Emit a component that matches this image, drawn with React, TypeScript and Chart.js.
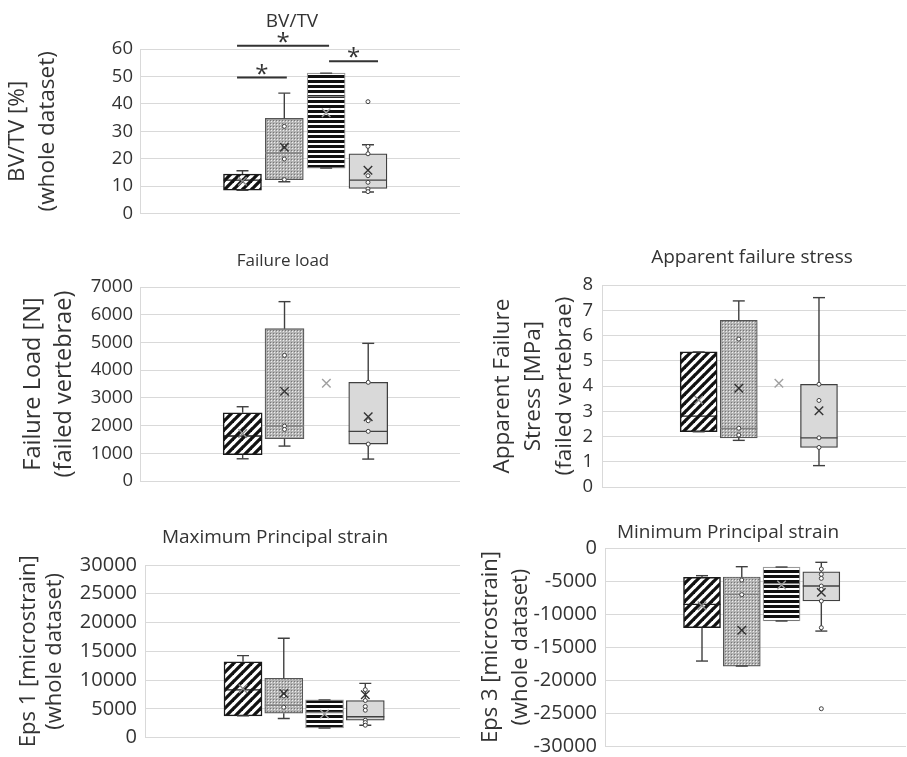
import React, { useEffect, useRef } from 'react';
import { Chart, registerables } from 'chart.js';
Chart.register(...registerables);

// ---------- DATA ----------
const groupPos = [1, 2, 3, 4];

// Panel 1: BV/TV [%]
const bvMin = [8.5, 11.6, 16.6, 7.9];
const bvQ1 = [8.5, 12.4, 16.6, 9.2];
const bvMed = [12.2, 22.1, 42.7, 12.2];
const bvQ3 = [14.4, 34.7, 51.2, 21.8];
const bvMax = [15.6, 43.9, 51.2, 25.1];
const bvMean = [11.8, 24.2, 36.8, 15.8];
const bvPoints = [[], [31.8, 24.6, 19.9, 12.4], [], [40.8, 24.5, 21.8, 13.8, 11.4, 9.0, 8.0]];
const bvTicks = [0, 60, 10];
// significance bars (from group pos, to group pos, level)
const sigFrom = [0.87, 0.87, 3.07];
const sigTo = [2.06, 3.07, 4.24];
const sigLevel = [49.6, 61.2, 55.5];

// Panel 2: Failure load [N]
const flMin = [805, 1263, null, 794];
const flQ1 = [950, 1528, null, 1335];
const flMed = [1624, 1985, null, 1793];
const flQ3 = [2465, 5497, null, 3562];
const flMax = [2682, 6472, null, 4968];
const flMean = [1720, 3236, 3525, 2322];
const flPoints = [[], [4535, 1985, 1864], [], [3562, 2177, 1793, 1335]];
const flTicks = [0, 7000, 1000];

// Panel 3: Apparent failure stress [MPa]
const fsMin = [2.19, 1.85, null, 0.85];
const fsQ1 = [2.19, 1.95, null, 1.57];
const fsMed = [2.81, 2.32, null, 1.95];
const fsQ3 = [5.35, 6.6, null, 4.07];
const fsMax = [5.35, 7.37, null, 7.5];
const fsMean = [3.45, 3.91, 4.11, 3.02];
const fsPoints = [[], [5.86, 2.33, 2.06], [], [4.07, 3.43, 1.95, 1.57]];
const fsTicks = [0, 8, 1];

// Panel 4: Eps 1 [microstrain]
const e1Min = [3770, 3310, 1680, 2150];
const e1Q1 = [3770, 4240, 1680, 3020];
const e1Med = [8300, 5630, 4360, 3620];
const e1Q3 = [13190, 10290, 6560, 6450];
const e1Max = [14240, 17270, 6560, 9420];
const e1Mean = [8500, 7670, 4100, 7430];
const e1Points = [[], [7950, 7250, 5280], [], [8330, 6450, 5410, 4760, 3020, 2620, 2150]];
const e1Ticks = [0, 30000, 5000];

// Panel 5: Eps 3 [microstrain]
const e3Min = [-17120, -17880, -11060, -12580];
const e3Q1 = [-12070, -17880, -11060, -8030];
const e3Med = [-8540, -7020, -5400, -5760];
const e3Q3 = [-4440, -4390, -2880, -3590];
const e3Max = [-4190, -2830, -2880, -2170];
const e3Mean = [-8740, -12470, -5610, -6720];
const e3Points = [[], [-4850, -7070], [], [-3180, -3990, -4600, -5760, -6260, -8030, -12070, -24340]];
const e3Ticks = [-30000, 0, 5000];

const panelData = [
  { title: 'BV/TV', yTitle: ['BV/TV [%]', '(whole dataset)'], ticks: bvTicks, min: bvMin, q1: bvQ1, med: bvMed, q3: bvQ3, max: bvMax, mean: bvMean, pts: bvPoints, sig: true },
  { title: 'Failure load', yTitle: ['Failure Load [N]', '(failed vertebrae)'], ticks: flTicks, min: flMin, q1: flQ1, med: flMed, q3: flQ3, max: flMax, mean: flMean, pts: flPoints, sig: false },
  { title: 'Apparent failure stress', yTitle: ['Apparent Failure', 'Stress [MPa]', '(failed vertebrae)'], ticks: fsTicks, min: fsMin, q1: fsQ1, med: fsMed, q3: fsQ3, max: fsMax, mean: fsMean, pts: fsPoints, sig: false },
  { title: 'Maximum Principal strain', yTitle: ['Eps 1 [microstrain]', '(whole dataset)'], ticks: e1Ticks, min: e1Min, q1: e1Q1, med: e1Med, q3: e1Q3, max: e1Max, mean: e1Mean, pts: e1Points, sig: false },
  { title: 'Minimum Principal strain', yTitle: ['Eps 3 [microstrain]', '(whole dataset)'], ticks: e3Ticks, min: e3Min, q1: e3Q1, med: e3Med, q3: e3Q3, max: e3Max, mean: e3Mean, pts: e3Points, sig: false },
];

// ---------- LAYOUT / STYLE ----------
// plotBottom: wanted bottom of plot area in canvas coordinates
const layouts = [
  { left: 0, top: 0, w: 584, h: 230, plotBottom: 214, yW: 140, padW: 124, padB: 16, tSize: 19, tPt: 10.2, tPb: 16, yfs: 22.5, ylh: 30, ypt: 3, tick: 18.5, tickPad: 7, xMin: -1.45, xMax: 6.2, barW: 38 },
  { left: 0, top: 240, w: 566, h: 257, plotBottom: 241, yW: 140, padW: 106, padB: 16, tSize: 17, tPt: 11, tPb: 15.6, yfs: 23.5, ylh: 30.5, ypt: 18.5, tick: 18.5, tickPad: 7, xMin: -1.453, xMax: 6.193, barW: 39 },
  { left: 470, top: 240, w: 564, h: 263, plotBottom: 247, yW: 132, padW: 128, padB: 16, tSize: 19, tPt: 6.2, tPb: 16, yfs: 22.5, ylh: 31, ypt: 16.75, tick: 18.5, tickPad: 9, xMin: -1.411, xMax: 6.17, barW: 37 },
  { left: 0, top: 510, w: 550, h: 247, plotBottom: 228, yW: 145, padW: 90, padB: 19, tSize: 19, tPt: 16.2, tPb: 16, yfs: 22, ylh: 26, ypt: 16, tick: 20, tickPad: 8, xMin: -1.404, xMax: 6.323, barW: 38 },
  { left: 470, top: 510, w: 516, h: 248, plotBottom: 236, yW: 135, padW: 80, padB: 12, tSize: 19, tPt: 11.2, tPb: 4, yfs: 22, ylh: 30, ypt: 6, tick: 20, tickPad: 8, xMin: -1.439, xMax: 6.129, barW: 37 },
];

const FONT = '"Open Sans", sans-serif';
const TXT = '#333333';
const GRID = '#d9d9d9';
const boxBorderColors = ['#1a1a1a', '#555555', '#9a9a9a', '#404040'];
const boxBorderWidths = [1.5, 1.2, 1.2, 1.3];
const medColors = ['#1a1a1a', '#808080', '#808080', '#404040'];
const meanColors = ['#8c8c8c', '#333333', '#a0a0a0', '#333333'];

function makePatterns(): any[] {
  const mk = (w: number, h: number, draw: (g: CanvasRenderingContext2D) => void) => {
    const c = document.createElement('canvas');
    c.width = w; c.height = h;
    const g = c.getContext('2d')!;
    draw(g);
    return g.createPattern(c, 'repeat');
  };
  const hatch = mk(9, 9, (g) => {
    g.fillStyle = '#fff'; g.fillRect(0, 0, 9, 9);
    g.strokeStyle = '#111'; g.lineWidth = 3.3; g.lineCap = 'square';
    for (const o of [-9, 0, 9]) { g.beginPath(); g.moveTo(o, 9); g.lineTo(o + 9, 0); g.stroke(); }
  });
  const mesh = mk(3, 3, (g) => {
    g.fillStyle = '#b4b4b4'; g.fillRect(0, 0, 3, 3);
    g.fillStyle = '#eeeeee'; g.fillRect(1, 1, 1, 1);
    g.fillStyle = '#777777'; g.fillRect(0, 0, 1, 1);
  });
  const stripes = mk(4, 5, (g) => {
    g.fillStyle = '#fff'; g.fillRect(0, 0, 4, 5);
    g.fillStyle = '#111'; g.fillRect(0, 0, 4, 3);
  });
  return [hatch, mesh, stripes, '#d9d9d9'];
}

const starPlugin = {
  id: 'sigStars',
  afterDatasetsDraw(chart: any, _args: any, opts: any) {
    if (!opts || !opts.from) return;
    const { ctx, scales } = chart;
    const x = scales.x, y = scales.y;
    ctx.save();
    ctx.font = `${opts.size}px ${FONT}`;
    ctx.fillStyle = opts.color;
    ctx.textAlign = 'center';
    ctx.textBaseline = 'alphabetic';
    opts.from.forEach((f: number, i: number) => {
      const cx = (x.getPixelForValue(f) + x.getPixelForValue(opts.to[i])) / 2;
      const cy = y.getPixelForValue(opts.level[i]);
      ctx.fillText('*', cx, cy + opts.offset);
    });
    ctx.restore();
  },
};

function buildConfig(d: any, L: any, patterns: any[]): any {
  const boxData: any[] = [], boxBg: any[] = [], boxBorder: any[] = [], boxBW: any[] = [];
  const whisk: any[] = [], caps: any[] = [], meds: any[] = [], medCol: any[] = [];
  const pts: any[] = [], means: any[] = [], meanCol: any[] = [];
  groupPos.forEach((g, i) => {
    if (d.q1[i] !== null) {
      boxData.push({ x: g, y: [d.q1[i], d.q3[i]] });
      boxBg.push(patterns[i]); boxBorder.push(boxBorderColors[i]); boxBW.push(boxBorderWidths[i]);
      whisk.push({ x: g, y: d.q3[i] }, { x: g, y: d.max[i] }, { x: g, y: null },
        { x: g, y: d.min[i] }, { x: g, y: d.q1[i] }, { x: g, y: null });
      caps.push({ x: g, y: d.max[i] }, { x: g, y: d.min[i] });
      meds.push({ x: g, y: d.med[i] }); medCol.push(medColors[i]);
    }
    d.pts[i].forEach((v: number) => pts.push({ x: g, y: v }));
    if (d.mean[i] !== null) { means.push({ x: g, y: d.mean[i] }); meanCol.push(meanColors[i]); }
  });
  const common = { xAxisID: 'x', yAxisID: 'y' };
  const datasets: any[] = [
    { ...common, type: 'scatter', data: means, order: 1, pointStyle: 'crossRot', pointRadius: 6, pointBorderWidth: 1.4, pointBorderColor: meanCol, pointBackgroundColor: 'rgba(0,0,0,0)' },
    { ...common, type: 'scatter', data: pts, order: 2, pointStyle: 'circle', pointRadius: 2, pointBorderWidth: 1, pointBorderColor: '#404040', pointBackgroundColor: '#ffffff' },
    { ...common, type: 'scatter', data: meds, order: 3, pointStyle: 'line', pointRadius: L.barW / 2, pointBorderWidth: 1.4, pointBorderColor: medCol },
    { ...common, type: 'scatter', data: caps, order: 4, pointStyle: 'line', pointRadius: 6, pointBorderWidth: 1.4, pointBorderColor: '#404040' },
    { ...common, type: 'line', data: whisk, order: 4, borderColor: '#404040', borderWidth: 1.4, pointRadius: 0, spanGaps: false },
    { ...common, type: 'bar', data: boxData, order: 6, backgroundColor: boxBg, borderColor: boxBorder, borderWidth: boxBW, borderSkipped: false, barThickness: L.barW, grouped: false },
  ];
  const pluginsOpt: any = {
    legend: { display: false },
    tooltip: { enabled: false },
    title: {
      display: true, text: d.title, color: TXT, fullSize: true,
      font: { family: FONT, size: L.tSize, weight: 'normal' },
      padding: { top: L.tPt, bottom: L.tPb },
    },
  };
  if (d.sig) {
    const sigData: any[] = [];
    sigFrom.forEach((f, i) => {
      sigData.push({ x: f, y: sigLevel[i] }, { x: sigTo[i], y: sigLevel[i] }, { x: sigTo[i], y: null });
    });
    datasets.push({ ...common, type: 'line', data: sigData, order: 0, borderColor: '#333333', borderWidth: 2, pointRadius: 0, spanGaps: false, clip: false });
    pluginsOpt.sigStars = { from: sigFrom, to: sigTo, level: sigLevel, size: 24, color: '#333333', offset: 4 };
  }
  return {
    type: 'bar',
    data: { datasets },
    plugins: d.sig ? [starPlugin] : [],
    options: {
      responsive: false,
      maintainAspectRatio: false,
      animation: false,
      events: [],
      layout: { padding: { left: 0, right: 0, top: 0, bottom: L.padB } },
      plugins: pluginsOpt,
      scales: {
        x: { type: 'linear', display: false, min: L.xMin, max: L.xMax, offset: false },
        y: {
          type: 'linear', position: 'left', min: d.ticks[0], max: d.ticks[1],
          ticks: { stepSize: d.ticks[2], autoSkip: false, padding: L.tickPad, color: TXT, font: { family: FONT, size: L.tick }, callback: (v: any) => String(v) },
          grid: { color: GRID, lineWidth: 1, drawTicks: false },
          border: { display: true, color: GRID, width: 1 },
          title: {
            display: true, text: d.yTitle, color: TXT,
            font: { family: FONT, size: L.yfs, lineHeight: `${L.ylh}px` },
            padding: { top: L.ypt, bottom: 0 },
          },
          afterFit: (s: any) => { s.width = L.yW; s.paddingTop = 0; s.paddingBottom = 0; },
        },
        pad: {
          type: 'linear', position: 'right', display: true,
          grid: { display: false }, ticks: { display: false }, border: { display: false },
          afterFit: (s: any) => { s.width = L.padW; s.paddingTop = 0; s.paddingBottom = 0; },
        },
      },
    },
  };
}

export default function App() {
  const refs = useRef<(HTMLCanvasElement | null)[]>([]);
  useEffect(() => {
    const patterns = makePatterns();
    const charts: any[] = [];
    panelData.forEach((d, i) => {
      const L = layouts[i];
      const cv = refs.current[i] as HTMLCanvasElement;
      let ch: any = new Chart(cv, buildConfig(d, L, patterns));
      const delta = Math.round(L.plotBottom - ch.chartArea.bottom);
      if (delta !== 0) {
        ch.destroy();
        cv.height = L.h + delta;
        cv.style.height = `${L.h + delta}px`;
        ch = new Chart(cv, buildConfig(d, L, patterns));
      }
      charts.push(ch);
    });
    return () => charts.forEach((c) => c.destroy());
  }, []);
  return (
    <div style={{ position: 'fixed', left: 0, top: 0, width: 907, height: 757, overflow: 'hidden', background: '#ffffff' }}>
      {layouts.map((L, i) => (
        <canvas
          key={i}
          ref={(el) => { refs.current[i] = el; }}
          width={L.w}
          height={L.h}
          style={{ position: 'absolute', left: L.left, top: L.top }}
        />
      ))}
    </div>
  );
}
